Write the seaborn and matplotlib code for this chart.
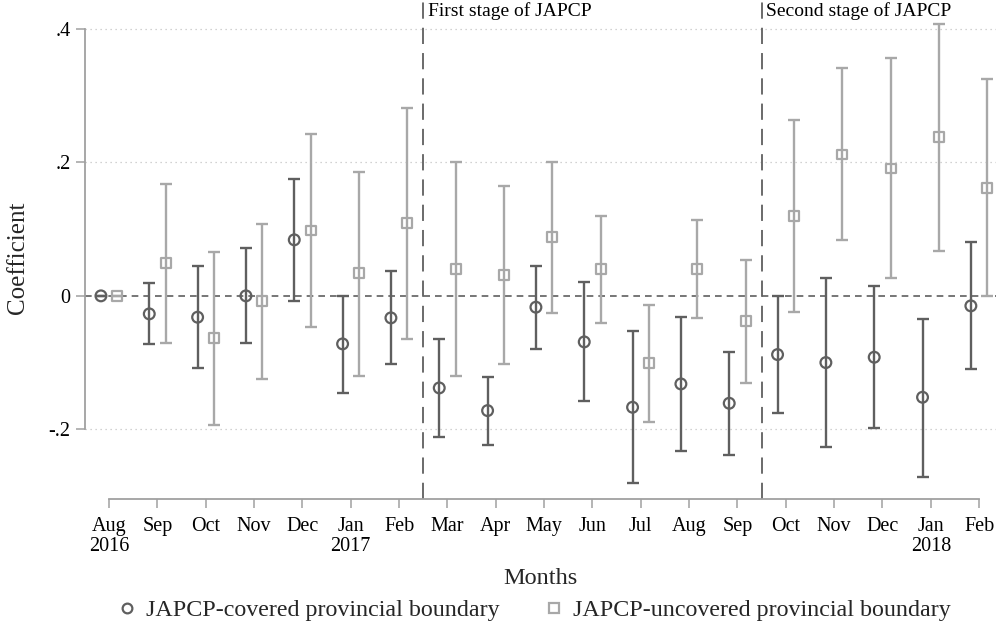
import matplotlib
matplotlib.use("Agg")
import matplotlib.pyplot as plt
import seaborn as sns
import pandas as pd
from matplotlib.lines import Line2D

# ---------------- data ----------------
months = ["Aug\n2016", "Sep", "Oct", "Nov", "Dec", "Jan\n2017", "Feb", "Mar", "Apr",
          "May", "Jun", "Jul", "Aug", "Sep", "Oct", "Nov", "Dec", "Jan\n2018", "Feb"]

covered_coef = [0.0, -0.027, -0.032, 0.0, 0.084, -0.072, -0.033, -0.138, -0.172,
                -0.017, -0.069, -0.167, -0.132, -0.161, -0.088, -0.100, -0.092, -0.152, -0.015]
covered_lo = [0.0, -0.072, -0.108, -0.071, -0.007, -0.145, -0.102, -0.211, -0.223,
              -0.080, -0.158, -0.281, -0.233, -0.238, -0.176, -0.226, -0.198, -0.271, -0.110]
covered_hi = [0.0, 0.020, 0.045, 0.072, 0.175, 0.000, 0.037, -0.065, -0.122,
              0.045, 0.021, -0.052, -0.031, -0.084, 0.000, 0.027, 0.015, -0.034, 0.080]

uncovered_coef = [0.0, 0.049, -0.063, -0.008, 0.098, 0.034, 0.109, 0.040, 0.031,
                  0.088, 0.040, -0.101, 0.040, -0.038, 0.120, 0.212, 0.191, 0.238, 0.162]
uncovered_lo = [0.0, -0.070, -0.193, -0.124, -0.047, -0.120, -0.064, -0.120, -0.102,
                -0.026, -0.041, -0.189, -0.033, -0.131, -0.024, 0.084, 0.027, 0.068, 0.000]
uncovered_hi = [0.0, 0.167, 0.066, 0.108, 0.243, 0.186, 0.282, 0.200, 0.165,
                0.200, 0.120, -0.013, 0.113, 0.054, 0.264, 0.341, 0.356, 0.408, 0.325]

series_labels = ["JAPCP-covered provincial boundary", "JAPCP-uncovered provincial boundary"]
y_ticks = [-0.2, 0.0, 0.2, 0.4]
y_ticklabels = ["-.2", "0", ".2", ".4"]
stage_breaks = [6.5, 13.5]
stage_labels = ["First stage of JAPCP", "Second stage of JAPCP"]

# ---------------- styling ----------------
sns.set_theme(style="white")
plt.rcParams["font.family"] = ["Liberation Serif", "DejaVu Serif"]

DARK = "#5f5f5f"
LIGHT = "#a8a8a8"
AXIS = "#a0a0a0"

fig = plt.figure(figsize=(9.97, 6.3), dpi=100)
ax = fig.add_axes([85 / 997, 131 / 630, (996 - 85) / 997, 499 / 630])

idx = list(range(len(months)))
off = 0.17
df_c = pd.DataFrame({"x": [i - off for i in idx], "coef": covered_coef,
                     "lo": covered_lo, "hi": covered_hi})
df_u = pd.DataFrame({"x": [i + off for i in idx], "coef": uncovered_coef,
                     "lo": uncovered_lo, "hi": uncovered_hi})

# grid + reference lines
for yt in y_ticks:
    if yt != 0:
        ax.axhline(yt, color="#c4c4c4", lw=0.9, ls=(0, (1, 3)), zorder=0)
ax.axhline(0, color=DARK, lw=1.2, ls=(0, (4, 3)), zorder=1)
for xb, lab in zip(stage_breaks, stage_labels):
    ax.axvline(xb, color=DARK, lw=1.3, ls=(0, (9, 5)), zorder=1)
    ax.text(xb + 0.1, 0.427, lab, fontsize=14, ha="left", va="center", color="black")

# error bars
for df, col in [(df_c, DARK), (df_u, LIGHT)]:
    ax.errorbar(df["x"], df["coef"], yerr=[df["coef"] - df["lo"], df["hi"] - df["coef"]],
                fmt="none", ecolor=col, elinewidth=1.7, capsize=4.0, capthick=1.7, zorder=2)

# markers via seaborn
sns.scatterplot(data=df_c, x="x", y="coef", marker="o", s=60, color=DARK,
                facecolor="none", edgecolor=DARK, linewidth=1.6, ax=ax, zorder=3)
sns.scatterplot(data=df_u, x="x", y="coef", marker="s", s=50, color=LIGHT,
                facecolor="none", edgecolor=LIGHT, linewidth=1.6, ax=ax, zorder=3)

ax.set_xlim(-0.5, 18.35)
ax.set_ylim(-0.3045, 0.4435)
ax.set_xticks(idx)
ax.set_xticklabels(months, fontsize=14.5, linespacing=1.1)
ax.set_yticks(y_ticks)
ax.set_yticklabels(y_ticklabels, fontsize=14.5)
ax.tick_params(axis="both", bottom=True, left=True, direction="out", length=6.5,
               width=1.1, color=AXIS, labelcolor="black")
ax.tick_params(axis="x", pad=6.5)
ax.tick_params(axis="y", pad=4)

for s in ["top", "right"]:
    ax.spines[s].set_visible(False)
ax.spines["left"].set_bounds(-0.2, 0.4)
ax.spines["bottom"].set_bounds(0, 18)
for s in ["left", "bottom"]:
    ax.spines[s].set_color(AXIS)
    ax.spines[s].set_linewidth(1.3)

ax.set_xlabel("Months", fontsize=17.5, labelpad=8)
ax.set_ylabel("Coefficient", fontsize=18)
ax.yaxis.set_label_coords(-0.062, 0.483)

handles = [
    Line2D([], [], marker="o", ls="none", mfc="none", mec=DARK, ms=7, mew=1.6),
    Line2D([], [], marker="s", ls="none", mfc="none", mec=LIGHT, ms=7, mew=1.6),
]
fig.legend(handles, series_labels, loc="center", bbox_to_anchor=(533 / 997, 1 - 610 / 630),
           ncol=2, frameon=False, fontsize=17.3, handlelength=1.0, handletextpad=0.3,
           columnspacing=1.75)

fig.savefig("out.png", dpi=100)
